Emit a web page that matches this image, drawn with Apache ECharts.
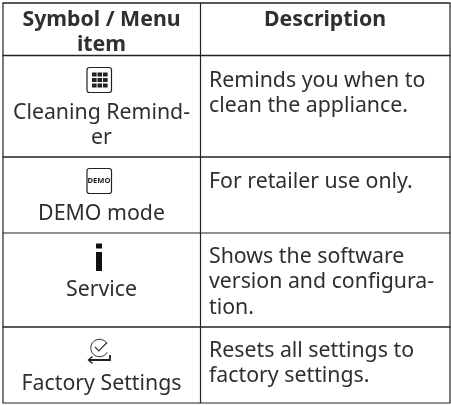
<!DOCTYPE html>
<html>
<head>
<meta charset="utf-8">
<style>html,body{margin:0;background:#fff}#chart{width:451px;height:405px}</style>
<script src="https://cdn.jsdelivr.net/npm/echarts@6/dist/echarts.min.js"></script>
</head>
<body>
<div id="chart"></div>
<script>
"use strict";
const headers = [["Symbol / Menu", "item"], ["Description"]];
const symbolLabels = [["Cleaning Remind-", "er"], ["DEMO mode"], ["Service"], ["Factory Settings"]];
const descriptions = [
  ["Reminds you when to", "clean the appliance."],
  ["For retailer use only."],
  ["Shows the software", "version and configura-", "tion."],
  ["Resets all settings to", "factory settings."],
];

const INK = "#2f2f2f", FONT = "'Noto Sans', sans-serif";
const LEFT = 3, MID = 200.5, RIGHT = 450;
const CX = 101.5;
const hLines = [[3, 1.4], [55.5, 1.6], [157, 1.4], [233, 1.2], [327, 1.4], [403, 1.2]];
const g = [];

const text = (s, x, y, align, bold) => g.push({ type: "text", x, y, silent: true,
  style: { text: s, fill: INK, font: `${bold ? 700 : 400} 21.3px ${FONT}`, align, verticalAlign: "middle" } });
const rect = (x, y, w, h, fill) => g.push({ type: "rect", shape: { x, y, width: w, height: h }, style: { fill } });
const line = (x1, y1, x2, y2, w) => g.push({ type: "line", shape: { x1, y1, x2, y2 },
  style: { stroke: "#222", lineWidth: w } });

// ---- table rules ----
hLines.forEach(([y, w]) => line(LEFT - 0.5, y, RIGHT + 0.5, y, w));
[LEFT, MID, RIGHT].forEach((x) => line(x, 3, x, 403, 1.2));

// ---- text ----
headers[0].forEach((s, i) => text(s, CX, 19.5 + i * 25, "center", true));
headers[1].forEach((s, i) => text(s, 325, 19.5 + i * 25, "center", true));
const labelY = [113, 214, 290, 384];
symbolLabels.forEach((rows, r) => rows.forEach((s, i) => text(s, CX, labelY[r] + i * 25, "center")));
const descY = [80.5, 181.5, 257, 351];
descriptions.forEach((rows, r) => rows.forEach((s, i) => text(s, 209, descY[r] + i * 25.4, "left")));

// ---- icons ----
const box = (y) => g.push({ type: "rect", shape: { x: 87, y, width: 24.5, height: 25, r: 2.5 },
  style: { fill: "#fff", stroke: "#222", lineWidth: 1.2 } });
box(67.5);
[[92, 72.5], [97.5, 72.5], [103, 72.5], [92, 78], [97.5, 78], [103, 78], [92, 83.5], [97.5, 83.5], [103, 83.5]]
  .forEach(([x, y]) => rect(x, y, 4.6, 4, "#222"));
box(168.5);
g.push({ type: "text", x: 99, y: 180.5, silent: true,
  style: { text: "DEMO", fill: "#222", font: `700 7.6px ${FONT}`, align: "center", verticalAlign: "middle" } });
rect(96, 243.5, 6, 5, "#111");
rect(96, 252, 6, 19, "#111");
g.push({ type: "arc", shape: { cx: 99.5, cy: 348, r: 8.8, startAngle: -0.55, endAngle: 0.5, clockwise: false },
  style: { fill: "none", stroke: "#333", lineWidth: 1 } });
g.push({ type: "polyline", shape: { points: [[95, 347], [98.8, 351], [107, 342.5]] },
  style: { fill: "none", stroke: "#333", lineWidth: 1.1 } });
g.push({ type: "polyline", shape: { points: [[110, 355], [110, 360], [89, 360]] },
  style: { fill: "none", stroke: "#222", lineWidth: 1.8 } });
g.push({ type: "polyline", shape: { points: [[92.5, 356.5], [88.5, 360], [92.5, 363.5]] },
  style: { fill: "none", stroke: "#222", lineWidth: 1.4 } });

const chart = echarts.init(document.getElementById("chart"), null, { renderer: "canvas" });
chart.setOption({ animation: false, backgroundColor: "#fff", graphic: { elements: g } });
</script>
</body>
</html>
